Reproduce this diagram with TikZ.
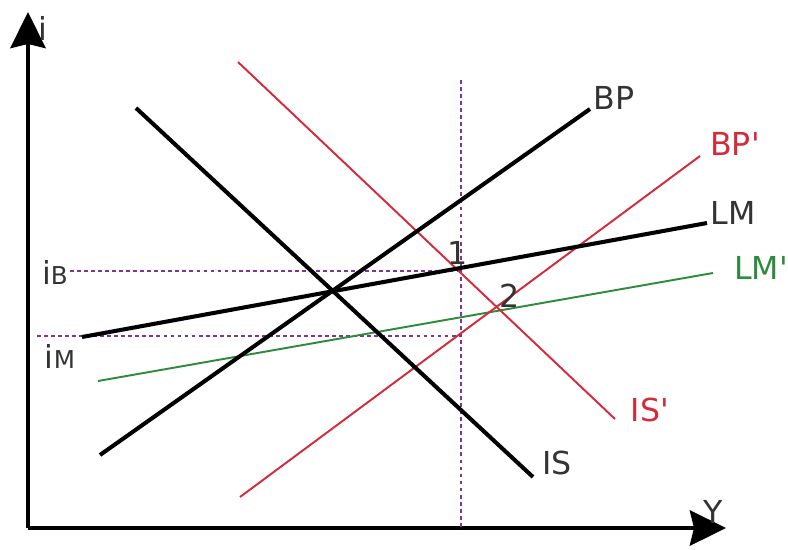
\documentclass[tikz,border=0pt]{standalone}
\usepackage{fontspec}
\setmainfont{DejaVu Sans}
\usetikzlibrary{arrows.meta}
\definecolor{redline}{HTML}{D42A3A}
\definecolor{greenline}{HTML}{2E8B3E}
\definecolor{guidepurple}{HTML}{7E3496}
\definecolor{labelgray}{HTML}{333333}
\tikzset{
  axis/.style={line width=2.8pt, -{Stealth[length=0.72cm,width=0.7cm,inset=0.08cm]}},
  curveblack/.style={line width=2.3pt, black},
  curvered/.style={line width=1.1pt, redline},
  curvegreen/.style={line width=1.1pt, greenline},
  guide/.style={line width=0.8pt, guidepurple, dash pattern=on 2.2pt off 1.8pt},
  lab/.style={font=\fontsize{18}{20}\selectfont, text=labelgray, inner sep=0pt},
  labred/.style={lab, text=redline},
  labgreen/.style={lab, text=greenline}
}

\begin{document}
\begin{tikzpicture}[x=0.02cm, y=-0.02cm]
  \useasboundingbox (0,0) rectangle (788,549);

  % axes
  \coordinate (o) at (28,528);
  \coordinate (itop) at (28,12);
  \coordinate (yend) at (726,528);
  \draw[axis] (o)--(itop);
  \draw[axis] (o)--(yend);
  \node[lab] (ilab) at (43,28) {i};
  \node[lab] (ylab) at (713,512) {Y};

  % guides
  \coordinate (gb) at (70,271);
  \coordinate (gm) at (37,336);
  \coordinate (vtop) at (461,80);
  \coordinate (vbot) at (461,528);
  \draw[guide] (gb)--(gb-|vtop);
  \draw[guide] (gm)--(gm-|vtop);
  \draw[guide] (vtop)--(vbot);
  \node[lab] (iblab) at (55,272) {i{\fontsize{14}{16}\selectfont B}};
  \node[lab] (imlab) at (60,356) {i{\fontsize{14}{16}\selectfont M}};

  % curves
  \coordinate (bp1) at (100,455);  \coordinate (bp2) at (590,109);
  \coordinate (bq1) at (240,497);  \coordinate (bq2) at (700,156);
  \coordinate (lm1) at (82,337);   \coordinate (lm2) at (707,223);
  \coordinate (lq1) at (98,381);   \coordinate (lq2) at (713,273);
  \coordinate (is1) at (136,108);  \coordinate (is2) at (533,477);
  \coordinate (iq1) at (238,62);   \coordinate (iq2) at (615,419);

  \draw[curvegreen] (lq1)--(lq2);
  \draw[curvered] (bq1)--(bq2);
  \draw[curvered] (iq1)--(iq2);
  \draw[curveblack] (bp1)--(bp2);
  \draw[curveblack] (lm1)--(lm2);
  \draw[curveblack] (is1)--(is2);

  \node[lab] (bplab) at (614,98) {BP};
  \node[labred] (bqlab) at (735,144) {BP\textquotesingle};
  \node[lab] (lmlab) at (733,213) {LM};
  \node[labgreen] (lqlab) at (761,268) {LM\textquotesingle};
  \node[lab] (islab) at (557,463) {IS};
  \node[labred] (iqlab) at (650,410) {IS\textquotesingle};

  \node[lab] (p1) at (458,253) {1};
  \node[lab] (p2) at (510,296) {2};
\end{tikzpicture}
\end{document}
